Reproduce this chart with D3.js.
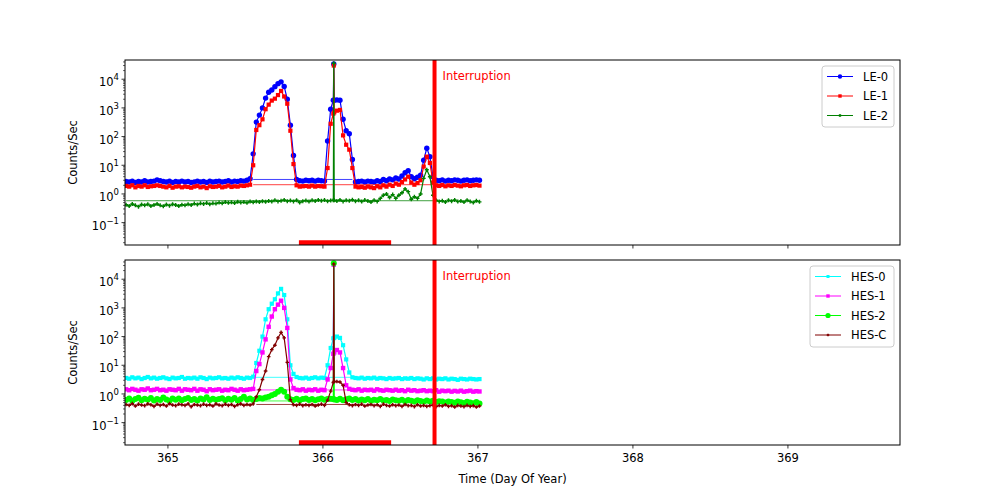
<!DOCTYPE html>
<html><head><meta charset="utf-8">
<script src="https://cdn.jsdelivr.net/npm/d3@7"></script>
<style>body{margin:0;background:#fff} text{font-family:"DejaVu Sans",sans-serif;}</style>
</head><body><svg id="c" width="1000" height="500"></svg>
<script>
// ---------- data ----------
const times = [
364.73,364.75,364.77,364.79,364.81,364.83,364.85,364.87,364.89,364.91,
364.93,364.95,364.97,364.99,365.01,365.03,365.05,365.07,365.09,365.11,
365.13,365.15,365.17,365.19,365.21,365.23,365.25,365.27,365.29,365.31,
365.33,365.35,365.37,365.39,365.41,365.43,365.45,365.47,365.49,365.51,
365.53,365.55,365.57,365.59,365.61,365.63,365.65,365.67,365.69,365.71,
365.73,365.75,365.77,365.79,365.81,365.83,365.85,365.87,365.89,365.91,
365.93,365.95,365.97,365.99,366.01,366.03,366.05,366.067,366.07,366.073,
366.09,366.11,366.13,366.15,366.17,366.19,366.21,366.23,366.25,366.27,
366.29,366.31,366.33,366.35,366.37,366.39,366.41,366.43,366.45,366.47,
366.49,366.51,366.53,366.55,366.57,366.59,366.61,366.63,366.65,366.67,
366.69,366.71,366.73,366.75,366.77,366.79,366.81,366.83,366.85,366.87,
366.89,366.91,366.93,366.95,366.97,366.99,367.01];

const le0 = [
2.7,2.6,2.8,2.5,2.7,2.6,2.9,2.6,2.7,2.8,
3.1,2.9,2.7,2.6,2.8,2.5,2.7,2.6,2.8,2.6,
2.7,2.5,2.6,2.8,2.6,2.7,2.5,2.8,2.6,2.7,
2.8,2.6,2.7,2.9,2.6,2.8,2.7,2.9,2.8,3.0,
3.4,25,320,560,1000,2200,3500,4200,5500,7000,
8100,5600,2000,250,22,3.2,2.9,2.8,3.0,2.9,
3.0,2.8,3.0,2.9,2.8,70,900,1860,34000,1860,
1900,1850,400,160,125,16,2.6,2.7,2.8,2.6,
2.8,2.7,2.6,2.9,2.7,3.2,2.9,3.3,3.1,3.6,
3.3,4.2,5.5,6.5,4.0,3.4,3.8,4.5,15,39,
20,4.0,3.0,2.9,3.1,2.8,3.0,2.9,3.1,3.0,
2.8,3.0,3.1,2.9,3.0,3.1,3.0];

const le1 = [
1.9,1.8,2.0,1.7,1.9,1.8,2.0,1.75,1.85,1.9,
2.0,1.9,1.8,1.7,1.9,1.65,1.8,1.85,1.7,1.8,
1.75,1.65,1.8,1.9,1.7,1.8,1.6,1.85,1.75,1.8,
1.9,1.7,1.8,1.95,1.75,1.85,1.8,1.95,1.9,2.0,
2.1,10,170,250,400,900,1300,1800,2100,2800,
3900,2500,1400,160,11,2.0,1.8,1.85,1.9,1.8,
1.95,1.8,1.9,1.85,1.8,8,280,630,30000,700,
800,850,110,52,35,8,1.8,1.7,1.75,1.65,
1.8,1.7,1.6,1.85,1.7,2.0,1.8,2.1,1.9,2.3,
2.1,2.6,3.2,4.0,2.5,2.1,2.4,3.0,9,20,
12,2.5,2.0,1.9,2.05,1.85,2.0,1.9,2.05,1.95,
1.85,2.0,2.05,1.9,2.0,2.05,1.95];

const le2 = [
0.42,0.38,0.45,0.40,0.36,0.43,0.40,0.44,0.38,0.41,
0.45,0.40,0.37,0.43,0.39,0.44,0.41,0.38,0.42,0.40,
0.44,0.41,0.46,0.43,0.47,0.45,0.48,0.44,0.47,0.46,
0.50,0.47,0.52,0.49,0.51,0.48,0.53,0.50,0.52,0.49,
0.54,0.51,0.55,0.52,0.56,0.53,0.57,0.54,0.60,0.55,
0.58,0.62,0.56,0.59,0.55,0.60,0.50,0.56,0.59,0.54,
0.60,0.57,0.62,0.58,0.61,0.56,0.59,0.60,36000,0.60,
0.57,0.62,0.55,0.60,0.58,0.63,0.56,0.60,0.54,0.61,
0.57,0.52,0.60,0.55,0.70,0.90,1.0,0.75,0.95,0.70,
0.90,1.10,1.50,1.20,0.65,0.80,0.70,1.00,3.5,7.0,
4.0,0.90,0.60,0.55,0.58,0.52,0.60,0.56,0.62,0.54,
0.57,0.52,0.60,0.55,0.50,0.58,0.53];

const hes0 = [
3.6,3.4,3.8,3.5,3.7,3.3,3.6,3.9,3.5,3.7,
3.4,3.6,3.8,3.5,3.3,3.7,3.5,3.6,3.9,3.4,
3.6,3.5,3.7,3.4,3.8,3.6,3.3,3.7,3.5,3.6,
3.8,3.5,3.6,3.4,3.7,3.5,3.8,3.6,3.4,3.7,
3.6,4.0,12,32,100,400,900,1400,2000,3200,
4600,2800,400,10,5,3.9,3.6,3.5,3.7,3.4,
3.6,3.8,3.5,3.7,3.6,10,40,87,33000,90,
100,90,50,16,5.6,3.8,3.6,3.5,3.7,3.4,
3.6,3.5,3.7,3.4,3.6,3.5,3.3,3.6,3.4,3.5,
3.6,3.3,3.5,3.4,3.6,3.3,3.5,3.4,3.2,3.5,
3.3,3.5,3.2,3.4,3.3,3.5,3.2,3.4,3.3,3.1,
3.4,3.3,3.2,3.4,3.3,3.2,3.3];

const hes1 = [
1.45,1.35,1.5,1.4,1.3,1.45,1.4,1.55,1.35,1.4,
1.5,1.35,1.4,1.3,1.45,1.4,1.35,1.5,1.3,1.45,
1.4,1.35,1.5,1.3,1.45,1.4,1.25,1.45,1.35,1.4,
1.45,1.3,1.4,1.35,1.5,1.4,1.3,1.45,1.35,1.4,
1.45,1.5,6.3,11,28,80,220,500,900,1300,
1780,1000,200,3.2,1.6,1.4,1.35,1.45,1.3,1.4,
1.35,1.45,1.3,1.4,1.35,3.2,8,25,32000,28,
34,28,8,2.0,1.5,1.4,1.35,1.45,1.3,1.4,
1.35,1.4,1.3,1.45,1.35,1.3,1.4,1.35,1.3,1.4,
1.3,1.35,1.25,1.4,1.3,1.35,1.25,1.3,1.35,1.25,
1.3,1.25,1.35,1.2,1.3,1.25,1.3,1.2,1.28,1.22,
1.3,1.2,1.25,1.3,1.2,1.25,1.22];

const hes2 = [
0.62,0.70,0.58,0.66,0.74,0.60,0.68,0.63,0.72,0.59,
0.67,0.61,0.75,0.64,0.58,0.70,0.63,0.69,0.60,0.66,
0.72,0.62,0.67,0.59,0.70,0.64,0.76,0.61,0.68,0.63,
0.66,0.71,0.60,0.68,0.63,0.72,0.59,0.67,0.80,0.64,
0.69,0.62,0.66,0.72,0.70,0.75,0.80,0.90,1.0,1.2,
1.4,1.2,0.8,0.65,0.62,0.68,0.60,0.66,0.70,0.62,
0.67,0.60,0.65,0.70,0.63,0.66,0.68,0.66,36000,0.64,
0.62,0.68,0.60,0.65,0.70,0.61,0.66,0.59,0.64,0.60,
0.66,0.58,0.63,0.60,0.67,0.59,0.62,0.57,0.64,0.60,
0.58,0.63,0.56,0.61,0.58,0.54,0.60,0.57,0.53,0.59,
0.55,0.58,0.52,0.56,0.54,0.50,0.55,0.52,0.49,0.54,
0.51,0.48,0.53,0.50,0.47,0.52,0.46];

const hesC = [
0.43,0.40,0.46,0.38,0.44,0.41,0.39,0.45,0.42,0.37,
0.44,0.40,0.43,0.38,0.46,0.41,0.39,0.44,0.42,0.40,
0.45,0.36,0.43,0.41,0.39,0.44,0.40,0.42,0.38,0.45,
0.41,0.39,0.44,0.40,0.43,0.37,0.42,0.45,0.40,0.43,
0.41,0.45,0.8,1.4,3.2,6.3,20,35,50,90,
140,90,12.6,0.63,0.42,0.40,0.44,0.39,0.42,0.40,
0.43,0.38,0.41,0.44,0.40,0.6,1.25,2.5,34000,2.7,
2.7,2.6,2.0,0.5,0.42,0.39,0.43,0.40,0.44,0.38,
0.41,0.43,0.39,0.42,0.37,0.44,0.40,0.38,0.42,0.39,
0.41,0.37,0.43,0.39,0.40,0.36,0.42,0.38,0.40,0.37,
0.39,0.41,0.36,0.40,0.38,0.42,0.37,0.39,0.35,0.40,
0.38,0.36,0.40,0.37,0.39,0.35,0.38];

// flat connecting segments [start day, end day, level]
const le0Flat = [365.55, 366.19, 3.2];
const le1Flat = [365.55, 366.71, 2.1];
const le2Flat = [364.73, 366.71, 0.58];
const hes0Flat = [365.56, 366.20, 3.8];
const hes1Flat = [365.57, 366.17, 1.38];
const hes2Flat = [365.57, 366.20, 0.57];
const hesCFlat = [365.57, 366.23, 0.43];

const leNames = ["LE-0","LE-1","LE-2"];
const hesNames = ["HES-0","HES-1","HES-2","HES-C"];
const xTicks = [365,366,367,368,369];
const yMajor = [0.1,1,10,100,1000,10000];
const yExp = ["\u22121","0","1","2","3","4"];
const interruptionDay = 366.72;
const redBar = [365.845, 366.44, 0.02];
const xDomain = [364.723, 369.723];
const yDomain = [Math.pow(10,-1.78), Math.pow(10,4.67)];

// ---------- drawing ----------
const svg = d3.select("#c");
const L = 125, R = 900;
const x = d3.scaleLinear().domain(xDomain).range([L, R]);

const panels = [
  {top:60, bottom:245, showX:false, legend:{x:822,y:66,w:72,h:61},
   series:[
     {name:leNames[0], vals:le0, flat:le0Flat, color:"#0000ff", marker:"o", ms:2.7, lms:2.2},
     {name:leNames[1], vals:le1, flat:le1Flat, color:"#ff0000", marker:"s", ms:4.2, lms:3.4},
     {name:leNames[2], vals:le2, flat:le2Flat, color:"#008000", marker:"+", ms:4, lms:3}
   ]},
  {top:260, bottom:445, showX:true, legend:{x:810,y:266,w:84,h:81},
   series:[
     {name:hesNames[0], vals:hes0, flat:hes0Flat, color:"#00ffff", marker:"s", ms:4.2, lms:3},
     {name:hesNames[1], vals:hes1, flat:hes1Flat, color:"#ff00ff", marker:"s", ms:4.4, lms:3.4},
     {name:hesNames[2], vals:hes2, flat:hes2Flat, color:"#00ff00", marker:"o", ms:3, lms:2.6},
     {name:hesNames[3], vals:hesC, flat:hesCFlat, color:"#800000", marker:"+", ms:3.6, lms:2.6}
   ]}
];

function drawMarker(g, cx, cy, s, size) {
  if (s.marker === "o") {
    g.append("circle").attr("cx",cx).attr("cy",cy).attr("r",size).attr("fill",s.color);
  } else if (s.marker === "s") {
    g.append("rect").attr("x",cx-size/2).attr("y",cy-size/2).attr("width",size).attr("height",size).attr("fill",s.color);
  } else {
    g.append("path").attr("d",`M${cx-size/2},${cy}H${cx+size/2}M${cx},${cy-size/2}V${cy+size/2}`)
      .attr("stroke",s.color).attr("stroke-width",1.4).attr("fill","none");
  }
}

panels.forEach((p, pi) => {
  const y = d3.scaleLog().domain(yDomain).range([p.bottom, p.top]);
  const clipId = "clip"+pi;
  svg.append("clipPath").attr("id",clipId).append("rect")
    .attr("x",L).attr("y",p.top).attr("width",R-L).attr("height",p.bottom-p.top);
  const g = svg.append("g").attr("clip-path",`url(#${clipId})`);

  p.series.forEach(s => {
    const pts = times.map((t,i)=>[t, s.vals[i]]);
    const line = d3.line().x(d=>x(d[0])).y(d=>y(d[1]));
    g.append("path").datum([[s.flat[0],s.flat[2]],[s.flat[1],s.flat[2]]])
      .attr("d",line).attr("fill","none").attr("stroke",s.color).attr("stroke-width",1).attr("opacity",0.75);
    g.append("path").datum(pts).attr("d",line).attr("fill","none")
      .attr("stroke",s.color).attr("stroke-width",1.2);
    const mg = g.append("g");
    pts.forEach(d => drawMarker(mg, x(d[0]), y(d[1]), s, s.ms));
  });

  // interruption line
  g.append("line").attr("x1",x(interruptionDay)).attr("x2",x(interruptionDay))
    .attr("y1",p.top).attr("y2",p.bottom).attr("stroke","#ff0000").attr("stroke-width",4);
  // red bar
  g.append("line").attr("x1",x(redBar[0])).attr("x2",x(redBar[1]))
    .attr("y1",y(redBar[2])).attr("y2",y(redBar[2])).attr("stroke","#ff0000").attr("stroke-width",5);

  svg.append("text").attr("x",x(interruptionDay)+8).attr("y",p.top+20)
    .attr("fill","#ff0000").attr("font-size",11.5).text("Interruption");

  // frame
  svg.append("rect").attr("x",L).attr("y",p.top).attr("width",R-L).attr("height",p.bottom-p.top)
    .attr("fill","none").attr("stroke","#000").attr("stroke-width",1);

  // x ticks
  const xa = svg.append("g");
  xTicks.forEach(t => {
    xa.append("line").attr("x1",x(t)).attr("x2",x(t)).attr("y1",p.bottom).attr("y2",p.bottom+3.5)
      .attr("stroke","#000").attr("stroke-width",0.8);
    if (p.showX) xa.append("text").attr("x",x(t)).attr("y",p.bottom+17).attr("text-anchor","middle")
      .attr("font-size",11.5).text(t);
  });

  // y ticks
  const ya = svg.append("g");
  yMajor.forEach((v,i) => {
    ya.append("line").attr("x1",L-3.5).attr("x2",L).attr("y1",y(v)).attr("y2",y(v))
      .attr("stroke","#000").attr("stroke-width",0.8);
    const tx = ya.append("text").attr("x",L-6).attr("y",y(v)+7).attr("text-anchor","end").attr("font-size",11.5);
    tx.append("tspan").text("10");
    tx.append("tspan").attr("dy",-6).attr("font-size",8.5).text(yExp[i]);
  });
  const minors = [];
  [-2,-1,0,1,2,3,4].forEach(e => { for (let m=2;m<=9;m++) minors.push(m*Math.pow(10,e)); });
  minors.filter(v => v>=yDomain[0] && v<=yDomain[1]).forEach(v => {
    ya.append("line").attr("x1",L-2).attr("x2",L).attr("y1",y(v)).attr("y2",y(v))
      .attr("stroke","#000").attr("stroke-width",0.6);
  });

  svg.append("text").attr("transform",`translate(77,${(p.top+p.bottom)/2}) rotate(-90)`)
    .attr("text-anchor","middle").attr("font-size",11.5).text("Counts/Sec");

  // legend
  const lg = svg.append("g");
  lg.append("rect").attr("x",p.legend.x).attr("y",p.legend.y).attr("width",p.legend.w).attr("height",p.legend.h)
    .attr("rx",3).attr("fill","#fff").attr("fill-opacity",0.8).attr("stroke","#cccccc").attr("stroke-width",1);
  p.series.forEach((s,i) => {
    const ly = p.legend.y + 10.5 + i*19.5;
    const lx0 = p.legend.x + 5, lx1 = lx0 + 26;
    lg.append("line").attr("x1",lx0).attr("x2",lx1).attr("y1",ly).attr("y2",ly)
      .attr("stroke",s.color).attr("stroke-width",1);
    drawMarker(lg, (lx0+lx1)/2, ly, s, s.lms);
    lg.append("text").attr("x",lx1+10).attr("y",ly+4).attr("font-size",11.5).text(s.name);
  });
});

svg.append("text").attr("x",(L+R)/2).attr("y",483).attr("text-anchor","middle")
  .attr("font-size",11.5).text("Time (Day Of Year)");
</script></body></html>
